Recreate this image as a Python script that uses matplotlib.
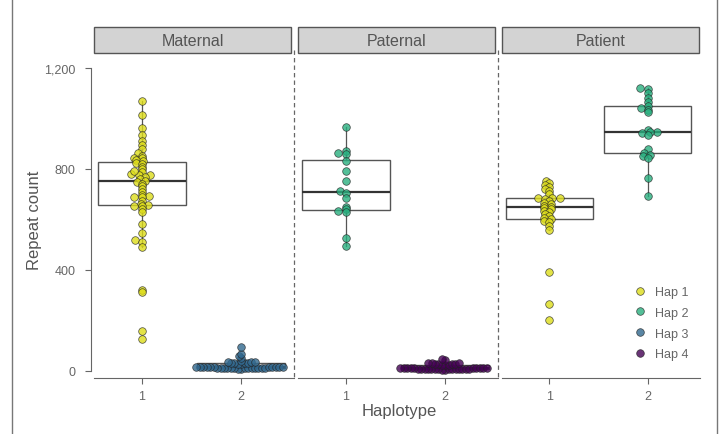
import numpy as np
import matplotlib
matplotlib.use("Agg")
import matplotlib.pyplot as plt
from matplotlib.lines import Line2D
from matplotlib.patches import Rectangle
from matplotlib.ticker import FuncFormatter

plt.rcParams['font.family'] = ['Liberation Sans', 'DejaVu Sans']

# values
maternal_hap1 = [1070, 1015, 961, 935, 912, 895, 879, 862, 853, 845, 842, 835, 830,
                 825, 818, 808, 798, 786, 778, 776, 774, 768, 760, 752, 750, 742,
                 732, 720, 708, 698, 692, 690, 688, 672, 662, 658, 655, 652,
                 640, 628, 580, 545, 518, 512, 492, 322, 312, 157, 127, 790]
maternal_hap3 = [9, 9, 10, 10, 10, 11, 11, 11, 12, 12, 12, 12, 13, 13, 13, 14, 14,
                 14, 15, 15, 15, 16, 16, 16, 17, 17,
                 28, 29, 30, 31, 32, 33, 34, 35, 36, 38,
                 50, 58, 67, 93]
paternal_hap2 = [965, 870, 862, 858, 830, 792, 752, 712, 705, 686, 651, 640, 632,
                 628, 525, 494]
paternal_hap4 = [5, 5, 6, 6, 6, 7, 7, 7, 8, 8, 8, 8, 9, 9, 9, 9, 10, 10, 10, 10,
                 11, 11, 11, 12, 12, 12,
                 23, 24, 25, 26, 27, 28, 29, 30, 31, 32,
                 44, 48]
patient_hap1 = [754, 745, 736, 728, 720, 712, 700, 686, 684, 685, 680, 672, 665,
                660, 655, 650, 645, 640, 635, 628, 620, 612, 605, 600, 595, 588,
                575, 560, 391, 265, 203]
patient_hap2 = [1120, 1118, 1100, 1082, 1065, 1048, 1040, 1035, 1025, 955, 948, 945,
                942, 935, 880, 862, 855, 850, 842, 763, 692]

panel_names = ["Maternal", "Paternal", "Patient"]
hap_labels = ["Hap 1", "Hap 2", "Hap 3", "Hap 4"]
hap_colors = ["#DDDC1A", "#29AF7F", "#31688E", "#440154"]
y_ticks = [0, 400, 800, 1200]

panels = [
    [(1, maternal_hap1, 0), (2, maternal_hap3, 2)],
    [(1, paternal_hap2, 1), (2, paternal_hap4, 3)],
    [(1, patient_hap1, 0), (2, patient_hap2, 1)],
]

W, H = 721, 435
fig = plt.figure(figsize=(7.21, 4.35), dpi=100)


def fx(px):
    return px / W


def fy(py):
    return 1 - py / H


def swarm(vals, dx0, dy0, ypx, maxw):
    # beeswarm in pixel space; the overlap test is elliptical (dx0 wide, dy0 tall)
    vals = np.asarray(vals, float)
    order = np.argsort(vals, kind="stable")
    xs = np.zeros(len(vals))
    placed = []
    d = dx0
    for i in order:
        y = vals[i] * ypx * dx0 / dy0
        cands = [0.0]
        for px, py in placed:
            dy = y - py
            if abs(dy) < d:
                dx = np.sqrt(d * d - dy * dy)
                cands += [px + dx, px - dx]
        cands = sorted(cands, key=lambda c: (abs(c), c))
        for c in cands:
            if all((c - px) ** 2 + (y - py) ** 2 >= d * d - 1e-6 for px, py in placed):
                break
        xs[i] = c
        placed.append((c, y))
    m = np.abs(xs).max()
    if m > maxw:
        xs *= maxw / m
    return xs


lefts = [94, 298, 502]
widths = [200, 200, 198]
top, bottom = 56, 379
xlim = (0.52, 2.53)
ylim = (-28, 1251)
gray = "#666666"

for k, (left, w) in enumerate(zip(lefts, widths)):
    ax = fig.add_axes([fx(left), fy(bottom), w / W, (bottom - top) / H])
    ax.set_xlim(*xlim)
    ax.set_ylim(*ylim)
    xpx = w / (xlim[1] - xlim[0])
    ypx = (bottom - top) / (ylim[1] - ylim[0])

    for pos, vals, hap in panels[k]:
        ax.boxplot([vals], positions=[pos], widths=0.88, showfliers=False,
                   showcaps=False, patch_artist=True, zorder=1,
                   boxprops=dict(facecolor="white", edgecolor="#555555", lw=1),
                   medianprops=dict(color="#333333", lw=1.6),
                   whiskerprops=dict(color="#555555", lw=0.9))
        offs = swarm(vals, 8.0, 2.5, ypx, 0.45 * xpx)
        ax.scatter(pos + offs / xpx, vals, s=30, color=hap_colors[hap],
                   edgecolors="#222222", linewidths=0.5, alpha=0.8, zorder=3)

    for s in ["top", "right", "left"]:
        ax.spines[s].set_visible(False)
    ax.spines["bottom"].set_color(gray)
    ax.set_xticks([1, 2])
    ax.set_xticklabels(["1", "2"])
    ax.tick_params(axis="x", colors=gray, labelsize=9, length=4.5, pad=4)
    if k == 0:
        ax.spines["left"].set_visible(True)
        ax.spines["left"].set_color(gray)
        ax.spines["left"].set_bounds(0, 1200)
        ax.spines["left"].set_position(("outward", 2))
        ax.set_yticks(y_ticks)
        ax.yaxis.set_major_formatter(FuncFormatter(lambda v, p: f"{v:,.0f}"))
        ax.tick_params(axis="y", colors=gray, labelsize=9, length=4.5, pad=7)
    else:
        ax.set_yticks([])
    if k == 2:
        handles = [Line2D([], [], ls="none", marker="o", markersize=5.5,
                          markerfacecolor=c, markeredgecolor="#222222",
                          markeredgewidth=0.5, alpha=0.8) for c in hap_colors]
        leg = ax.legend(handles, hap_labels, loc="lower right", frameon=False,
                        bbox_to_anchor=(1.0, 0.02), fontsize=9, labelspacing=0.7,
                        handletextpad=0.6, handlelength=1.2)
        for t in leg.get_texts():
            t.set_color(gray)

    # facet strip
    fig.patches.append(Rectangle((fx(left), fy(54)), 197 / W, 26 / H,
                                 transform=fig.transFigure, facecolor="#D3D3D3",
                                 edgecolor="#555555", lw=1))
    fig.text(fx(left + 98.5), fy(41), panel_names[k], ha="center", va="center",
             fontsize=11.5, color="#555555")

# dashed separators between facets
for xs in [294, 498]:
    fig.add_artist(Line2D([fx(xs)] * 2, [fy(51), fy(379)], color=gray, lw=0.9,
                          ls=(0, (3.5, 2.5))))

# frame edges
for xs in [12, 717]:
    fig.add_artist(Line2D([fx(xs)] * 2, [0, 1], color="#777777", lw=1))

fig.text(fx(35), fy(220), "Repeat count", rotation=90, ha="center", va="center",
         fontsize=12, color="#555555")
fig.text(fx(399), fy(412), "Haplotype", ha="center", va="center",
         fontsize=12, color="#555555")

fig.savefig("out.png", dpi=100)
